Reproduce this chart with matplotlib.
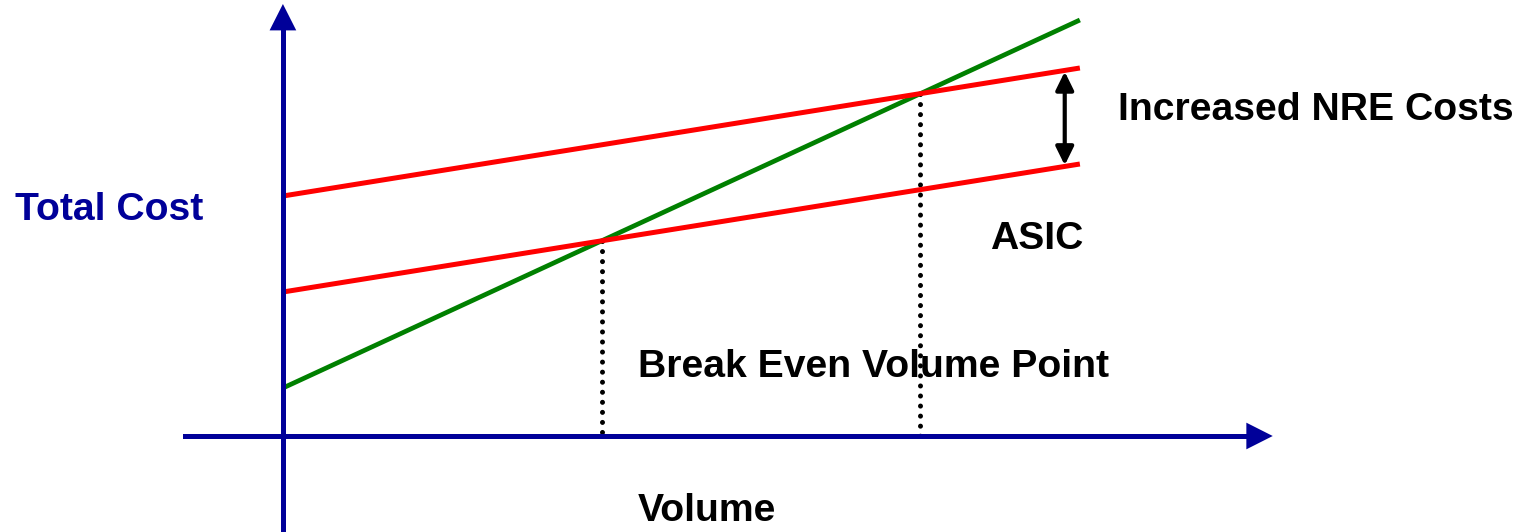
import matplotlib.pyplot as plt
import numpy as np

# cost model: total = fixed + variable * volume
volume = np.array([0, 100])
fpga_fixed, fpga_var = 12, 0.92
asic_fixed, asic_var = 36, 0.32
nre_extra = 24

navy = "#000099"
font = ["Liberation Sans", "DejaVu Sans"]

fig = plt.figure(figsize=(15.19, 5.32), dpi=100)
ax = fig.add_axes([0, 0, 1, 1])
ax.set_xlim(-35.5, 155.1)
ax.set_ylim(-24, 109)
ax.axis("off")

fpga = fpga_fixed + fpga_var * volume
asic = asic_fixed + asic_var * volume
asic_nre = asic_fixed + nre_extra + asic_var * volume

ax.plot(volume, fpga, color="#008000", lw=3.4, solid_capstyle="butt", zorder=3)
ax.plot(volume, asic, color="red", lw=3.6, solid_capstyle="butt", zorder=4)
ax.plot(volume, asic_nre, color="red", lw=3.6, solid_capstyle="butt", zorder=4)

# break even points
for fixed in (asic_fixed, asic_fixed + nre_extra):
    v = (fixed - fpga_fixed) / (fpga_var - asic_var)
    c = fpga_fixed + fpga_var * v
    ax.plot([v, v], [c, 0], color="black", lw=3.6, linestyle=(0, (0.01, 2.0)),
            dash_capstyle="round", zorder=2)

# axes with arrow heads
ax.plot([0, 0], [-24, 102], color=navy, lw=3.6, zorder=5)
ax.annotate("", xy=(0, 108), xytext=(0, 99), zorder=5,
            arrowprops=dict(arrowstyle="-|>,head_length=0.95,head_width=0.48",
                            mutation_scale=20, color=navy, lw=0, shrinkA=0, shrinkB=0))
ax.plot([-12.3, 121.5], [0, 0], color=navy, lw=3.6, zorder=5)
ax.annotate("", xy=(124.2, 0), xytext=(117, 0), zorder=5,
            arrowprops=dict(arrowstyle="-|>,head_length=0.95,head_width=0.48",
                            mutation_scale=20, color=navy, lw=0, shrinkA=0, shrinkB=0))

# NRE gap arrow
va = 98.1
ax.annotate("", xy=(va, asic_fixed + nre_extra + asic_var * va - 0.3),
            xytext=(va, asic_fixed + asic_var * va + 0.3),
            arrowprops=dict(arrowstyle="<|-|>,head_length=0.55,head_width=0.27",
                            mutation_scale=20, color="black", lw=3, shrinkA=0, shrinkB=0))

txt = dict(fontfamily=font, fontweight="bold", fontsize=28.2)
ax.text(-33.6, 56.5, "Total Cost", color=navy, va="center", ha="left", **txt)
ax.text(104.8, 81.5, "Increased NRE Costs", color="black", va="center", ha="left", **txt)
ax.text(88.7, 49.2, "ASIC", color="black", va="center", ha="left", **txt)
ax.text(44.5, 17.3, "Break Even Volume Point", color="black", va="center", ha="left", **txt)
ax.text(44.5, -18.8, "Volume", color="black", va="center", ha="left", **txt)

fig.savefig("out.png", dpi=100)
